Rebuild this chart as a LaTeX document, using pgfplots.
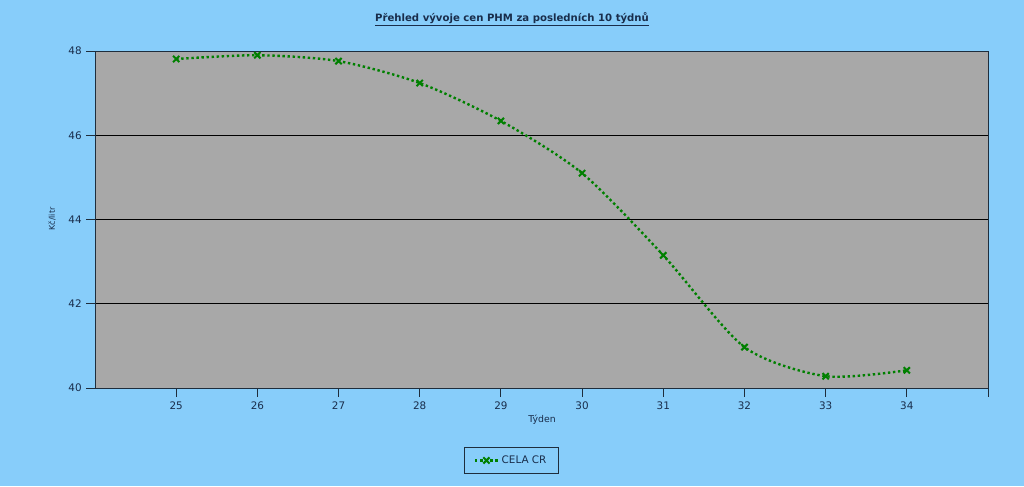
\documentclass[border=0pt]{standalone}
\usepackage{fontspec}
\setmainfont{DejaVu Sans}
\usepackage{pgfplots}
\pgfplotsset{compat=1.18}
\definecolor{bgblue}{RGB}{135,205,250}
\definecolor{plotgray}{RGB}{168,168,168}
\definecolor{axisdark}{RGB}{30,45,60}
\definecolor{linegreen}{RGB}{0,128,0}
\definecolor{ticktext}{RGB}{25,45,75}

\begin{document}
\begin{tikzpicture}
\path[use as bounding box, fill=bgblue] (0,0) rectangle (768pt,364.5pt);
\begin{axis}[
    at={(71.25pt,73.5pt)}, anchor=south west,
    scale only axis,
    width=669.75pt, height=252.75pt,
    xmin=24, xmax=35, ymin=40, ymax=48,
    xtick={25,...,34},
    extra x ticks={35}, extra x tick labels={},
    ytick={40,42,44,46,48},
    ymajorgrids=true,
    grid style={black, line width=0.6pt},
    axis background/.style={fill=plotgray},
    axis line style={axisdark, line width=0.7pt},
    tick style={axisdark, line width=0.7pt},
    tick align=outside,
    major tick length=6.5pt,
    xtick pos=bottom, ytick pos=left,
    tick label style={font=\fontsize{7.8}{9}\selectfont, text=ticktext},
    /pgf/number format/assume math mode=true,
    legend style={at={(0.4664,-0.215)}, anchor=center,
        fill=bgblue, draw=axisdark, line width=0.7pt,
        font=\fontsize{7.8}{9}\selectfont, text=ticktext,
        inner xsep=7pt, inner ysep=4pt},
    legend image post style={line width=1.8pt},
]
\addplot[linegreen, line width=1.8pt, dotted, smooth, tension=0.45,
    mark=x, mark size=3.3pt, mark options={solid, line width=1.5pt}]
coordinates {
(25,47.81) (26,47.90) (27,47.76) (28,47.24) (29,46.34)
(30,45.10) (31,43.15) (32,40.97) (33,40.28) (34,40.42)
};
\addlegendentry{CELA CR}
\end{axis}
\node[font=\bfseries\fontsize{7.6}{9}\selectfont, text=ticktext] at (384pt,350.25pt)
    {\underline{Přehled vývoje cen PHM za posledních 10 týdnů}};
\node[rotate=90, font=\fontsize{6}{7}\selectfont, text=ticktext] at (39pt,200.25pt) {Kč/litr};
\node[font=\fontsize{7}{8}\selectfont, text=ticktext] at (406.5pt,49.5pt) {Týden};
\end{tikzpicture}
\end{document}
